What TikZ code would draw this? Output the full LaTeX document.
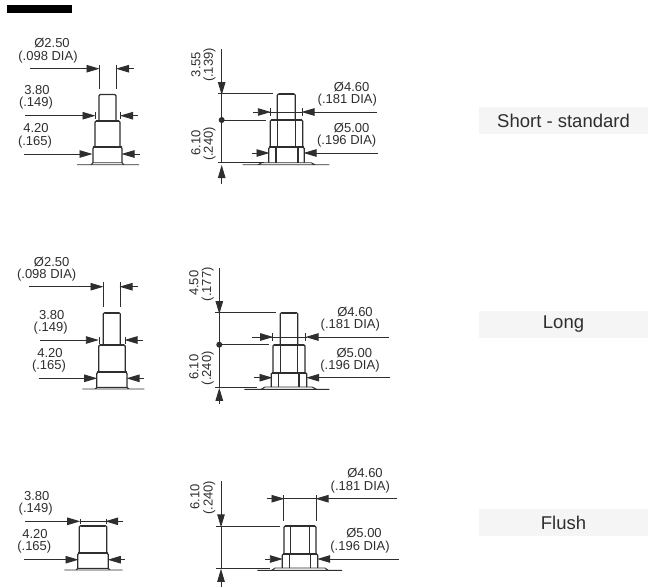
\documentclass[tikz,border=0pt]{standalone}
\usepackage{fontspec}
\setmainfont{Liberation Sans}
\usetikzlibrary{arrows.meta}
\definecolor{inkc}{HTML}{2E2E2E}
\definecolor{boxc}{HTML}{F5F5F5}
\begin{document}
\begin{tikzpicture}[x=1pt,y=-1pt,
  dim/.style={inkc,line width=0.9pt,-{Triangle[length=13pt,width=7.5pt]},shorten >=-1.5pt},
  thin line/.style={inkc,line width=0.9pt},
  part/.style={inkc,line width=1.2pt,rounded corners=1.2pt},
  heavy/.style={inkc,line width=1.9pt},
  dim text/.style={inkc,font=\fontsize{13}{13}\selectfont,inner sep=0pt},
  tag box/.style={fill=boxc,minimum width=169pt,minimum height=27pt,inner sep=0pt,text=inkc,font=\fontsize{18.5}{18.5}\selectfont}]
\useasboundingbox (0,0) rectangle (650,587);
\fill [black] (7,5) rectangle (72,12.6);
% short, front
\node [dim text] (a1) at (52,43.5) {Ø2.50};
\node [dim text] (a2) at (48,57) {(.098 DIA)};
\node [dim text] (a3) at (37,90) {3.80};
\node [dim text] (a4) at (36,103) {(.149)};
\node [dim text] (a5) at (36,128.5) {4.20};
\node [dim text] (a6) at (35,142) {(.165)};
\draw [dim] (30,68.7) -- (98,68.7);
\draw [dim] (134,68.7) -- (117.5,68.7);
\draw [thin line] (99,65) -- (99,89) (116,65) -- (116,89);
\draw [dim] (25,115.7) -- (94,115.7);
\draw [dim] (138,115.7) -- (121.5,115.7);
\draw [thin line] (95,112) -- (95,119) (120,112) -- (120,119);
\draw [dim] (24,154) -- (91,154);
\draw [dim] (140,154) -- (123,154);
\draw [part] (99,121) -- (99,94.5) -- (116,94.5) -- (116,121);
\draw [part] (95,147) -- (95,121) -- (120,121) -- (120,147);
\draw [part] (93,163) -- (93,147) -- (122,147) -- (122,163);
\draw [heavy] (101,94.5) -- (114,94.5) (96,121) -- (119,121) (93,147) -- (122,147);
\draw [thin line] (77,164.7) -- (139,164.7) (91,164.7) -- (93,162.7) -- (122,162.7) -- (124,164.7);
% short, side
\node [dim text,rotate=90] (b1) at (196,64.5) {3.55};
\node [dim text,rotate=90] (b2) at (209.5,65) {(.139)};
\node [dim text,rotate=90] (b3) at (196,142.7) {6.10};
\node [dim text,rotate=90] (b4) at (209.5,144) {(.240)};
\node [dim text] (b5) at (351.7,86.7) {Ø4.60};
\node [dim text] (b6) at (347.3,100) {(.181 DIA)};
\node [dim text] (b7) at (351.7,127.7) {Ø5.00};
\node [dim text] (b8) at (346.7,141) {(.196 DIA)};
\draw [dim] (221.7,49) -- (221.7,93.5);
\draw [thin line] (218,93.7) -- (273,93.7) (221.7,93.7) -- (221.7,162.7) (218,162.7) -- (264,162.7) (221.7,120) -- (266,120);
\fill [inkc] (221.7,120) circle (3);
\draw [dim] (221.7,184) -- (221.7,166.5);
\draw [dim] (253,112) -- (269.3,112);
\draw [dim] (376.7,112) -- (303,112);
\draw [thin line] (270,108) -- (270,116) (302.3,108) -- (302.3,116) (269,112) -- (303,112);
\draw [dim] (251.7,153) -- (268,153);
\draw [dim] (377.7,153) -- (305,153);
\draw [part] (277.3,120) -- (277.3,94) -- (295.3,94) -- (295.3,120);
\draw [part] (270.3,147.3) -- (270.3,120) -- (302.7,120) -- (302.7,147.3);
\draw [thin line] (277.3,120) -- (277.3,147.3) (295.3,120) -- (295.3,147.3);
\draw [part] (268.7,162.7) -- (268.7,147.3) -- (304.3,147.3) -- (304.3,162.7);
\draw [heavy] (279,94) -- (294,94) (271,120) -- (302,120) (269,147.3) -- (304,147.3);
\draw [inkc,line width=1.6pt] (276,147.3) -- (276,162.7) (297.7,147.3) -- (297.7,162.7);
\draw [thin line] (242.7,164.7) -- (329.3,164.7) (258,164.7) -- (262,162.7) -- (311,162.7) -- (315,164.7);
% long, front
\node [dim text] (c1) at (51.7,262) {Ø2.50};
\node [dim text] (c2) at (46.7,275.3) {(.098 DIA)};
\node [dim text] (c3) at (51.7,315) {3.80};
\node [dim text] (c4) at (50.7,328) {(.149)};
\node [dim text] (c5) at (50,353) {4.20};
\node [dim text] (c6) at (49,366.3) {(.165)};
\draw [dim] (29,286.7) -- (102,286.7);
\draw [dim] (137.7,286.7) -- (121,286.7);
\draw [thin line] (103.3,282) -- (103.3,307) (120.3,282) -- (120.3,307);
\draw [dim] (40,340) -- (97.3,340);
\draw [dim] (142.7,340) -- (126,340);
\draw [thin line] (99,336.5) -- (99,343.5) (125,336.5) -- (125,343.5);
\draw [dim] (38.7,378.3) -- (95.7,378.3);
\draw [dim] (144.3,378.3) -- (128,378.3);
\draw [part] (103.3,345) -- (103.3,312.7) -- (120.3,312.7) -- (120.3,345);
\draw [part] (98.7,372.3) -- (98.7,345) -- (125.3,345) -- (125.3,372.3);
\draw [part] (96.7,387.3) -- (96.7,372.3) -- (127,372.3) -- (127,387.3);
\draw [heavy] (105,312.7) -- (119,312.7) (100,345) -- (124,345) (97,372.3) -- (127,372.3);
\draw [thin line] (82.3,389) -- (144.3,389) (95,389) -- (97,387.3) -- (127,387.3) -- (129,389);
% long, side
\node [dim text,rotate=90] (d1) at (194,283.3) {4.50};
\node [dim text,rotate=90] (d2) at (207.7,284.3) {(.177)};
\node [dim text,rotate=90] (d3) at (194,367.3) {6.10};
\node [dim text,rotate=90] (d4) at (207.7,368.3) {(.240)};
\node [dim text] (d5) at (355,311.7) {Ø4.60};
\node [dim text] (d6) at (350.3,325.3) {(.181 DIA)};
\node [dim text] (d7) at (354.3,352.7) {Ø5.00};
\node [dim text] (d8) at (350,366) {(.196 DIA)};
\draw [dim] (219.3,268.3) -- (219.3,312.5);
\draw [thin line] (215,312.7) -- (275.7,312.7) (219.3,312.7) -- (219.3,387) (215,387) -- (256.7,387) (219.3,344.7) -- (268.7,344.7);
\fill [inkc] (219.3,344.7) circle (3);
\draw [dim] (219.3,404.3) -- (219.3,389.3);
\draw [dim] (252,337) -- (271.7,337);
\draw [dim] (389,337) -- (307,337);
\draw [thin line] (272.7,333) -- (272.7,341) (305,333) -- (305,341) (271,337) -- (307,337);
\draw [dim] (254.3,377.7) -- (271,377.7);
\draw [dim] (390,377.7) -- (307.7,377.7);
\draw [part] (280.3,344.7) -- (280.3,312.7) -- (297.7,312.7) -- (297.7,344.7);
\draw [part] (273,372.7) -- (273,344.7) -- (305,344.7) -- (305,372.7);
\draw [thin line] (280.3,344.7) -- (280.3,372.7) (297.7,344.7) -- (297.7,372.7);
\draw [part] (271.3,387) -- (271.3,372.7) -- (306.7,372.7) -- (306.7,387);
\draw [heavy] (282,312.7) -- (296,312.7) (274,344.7) -- (304,344.7) (272,372.7) -- (306,372.7);
\draw [inkc,line width=1.2pt] (278.7,372.7) -- (278.7,387) (299,372.7) -- (299,387);
\draw [thin line] (244.3,389.3) -- (329.3,389.3) (261,389.3) -- (265,387) -- (312,387) -- (316.7,389.3);
% flush, front
\node [dim text] (e1) at (36.7,496) {3.80};
\node [dim text] (e2) at (35.7,509) {(.149)};
\node [dim text] (e3) at (35,534) {4.20};
\node [dim text] (e4) at (34.3,547.3) {(.165)};
\draw [dim] (25.3,521.3) -- (78.7,521.3);
\draw [dim] (123.3,521.3) -- (106.7,521.3);
\draw [thin line] (80,518.5) -- (80,524) (106,518.5) -- (106,524) (80,521.3) -- (106,521.3);
\draw [dim] (24,559.7) -- (77,559.7);
\draw [dim] (125,559.7) -- (109.3,559.7);
\draw [part] (79.3,553.3) -- (79.3,525.7) -- (106.7,525.7) -- (106.7,553.3);
\draw [part] (77.7,568.3) -- (77.7,553.3) -- (108.3,553.3) -- (108.3,568.3);
\draw [heavy] (81,525.7) -- (105,525.7) (78,553.3) -- (108,553.3);
\draw [thin line] (64.3,570) -- (122.7,570) (76,570) -- (77.7,568.3) -- (108.3,568.3) -- (110,570);
% flush, side
\node [dim text,rotate=90] (f1) at (195,496.7) {6.10};
\node [dim text,rotate=90] (f2) at (209.3,497.7) {(.240)};
\node [dim text] (f3) at (365,473.3) {Ø4.60};
\node [dim text] (f4) at (360.3,487.3) {(.181 DIA)};
\node [dim text] (f5) at (364,533.3) {Ø5.00};
\node [dim text] (f6) at (360,547) {(.196 DIA)};
\draw [dim] (221,481) -- (221,525.8);
\draw [thin line] (216,526) -- (280,526) (221,526) -- (221,568) (216,568) -- (270,568);
\draw [dim] (221,586.7) -- (221,570.3);
\draw [dim] (266.7,498.7) -- (283,498.7);
\draw [dim] (397.3,498.7) -- (317,498.7);
\draw [thin line] (283.7,495) -- (283.7,521) (316.3,495) -- (316.3,521) (283,498.7) -- (317,498.7);
\draw [dim] (265,559) -- (281.3,559);
\draw [dim] (398.7,559) -- (318.7,559);
\draw [part] (284,554) -- (284,526) -- (316,526) -- (316,554);
\draw [thin line] (290.7,526) -- (290.7,554) (309.3,526) -- (309.3,554);
\draw [part] (282.3,568) -- (282.3,554) -- (317.7,554) -- (317.7,568);
\draw [inkc,line width=1.5pt] (285,526) -- (315,526) (283,554) -- (317,554);
\draw [thin line] (289.3,554) -- (289.3,568) (310.7,554) -- (310.7,568);
\draw [thin line] (257.3,570.3) -- (342,570.3) (271.7,570.3) -- (275,568) -- (325,568) -- (328.3,570.3);
% tags
\node [tag box] (short) at (563.5,120.8) {Short - standard};
\node [tag box] (long) at (563.5,324.5) {Long};
\node [tag box] (flush) at (563.5,522.5) {Flush};
\end{tikzpicture}
\end{document}
